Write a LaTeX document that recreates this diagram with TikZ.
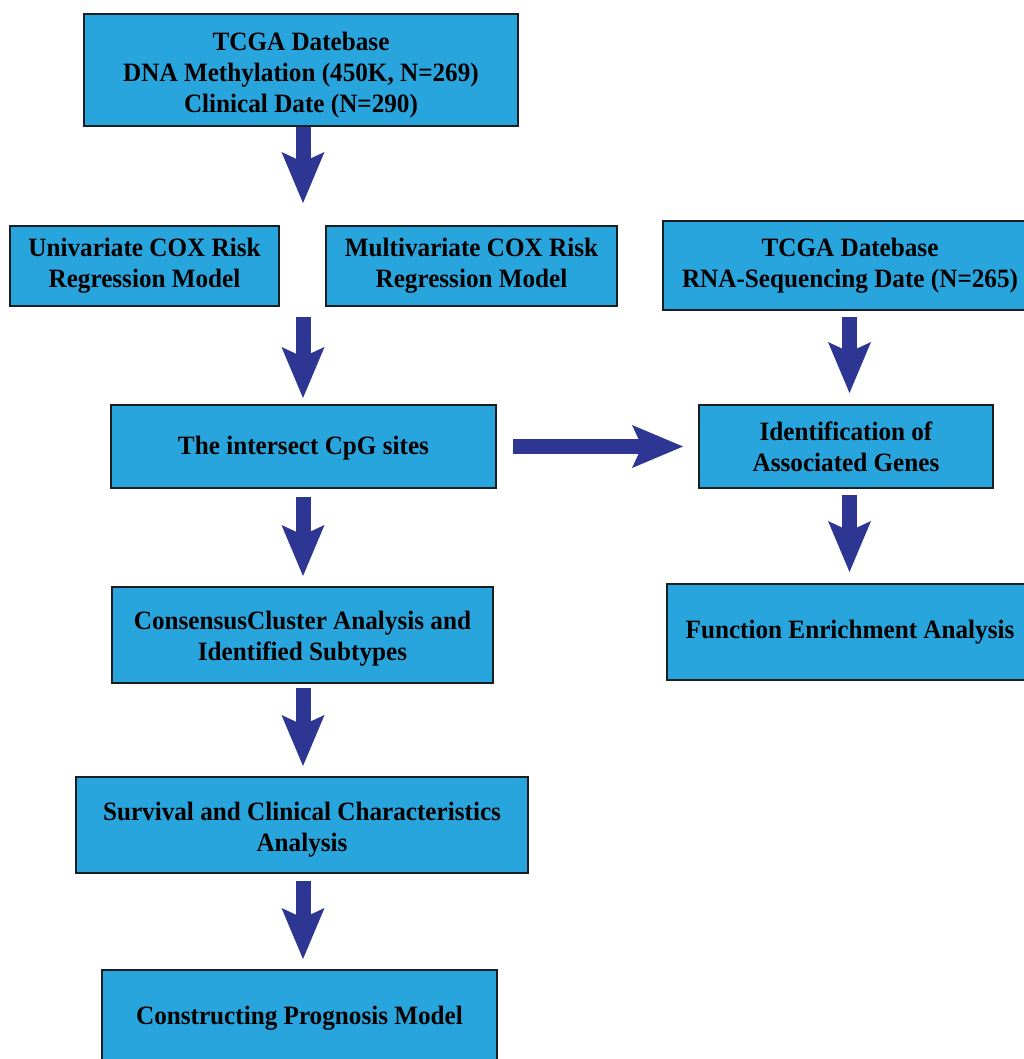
\documentclass[tikz,border=0pt]{standalone}
\usepackage{fontspec}
\setmainfont{Liberation Serif}[FakeStretch=0.95]
\usetikzlibrary{arrows.meta}
\definecolor{boxblue}{RGB}{41,165,221}
\definecolor{arrowblue}{RGB}{45,54,146}
\definecolor{edgeline}{RGB}{25,30,35}
\newcommand{\lowertext}[2]{\raisebox{-#1}[\height][\depth]{\begin{tabular}{@{}c@{}}#2\end{tabular}}}
\begin{document}
\begin{tikzpicture}[x=1pt,y=-1pt,
  box/.style={draw=edgeline, line width=1.5pt, fill=boxblue, inner sep=0pt, outer sep=0pt,
    align=center, font=\fontsize{26.5}{31}\selectfont\bfseries},
  bigarrow/.style={draw=arrowblue, line width=15pt,
    -{Stealth[length=51pt,width=43pt,inset=10pt,line width=0pt,fill=arrowblue]}}]
\useasboundingbox (0,0) rectangle (1024,1059);
\clip (0,0) rectangle (1024,1059);
\fill[white] (0,0) rectangle (1024,1059);

\coordinate (ax) at (303,0);
\coordinate (bx) at (849.5,0);

\node[box, minimum width=434pt, minimum height=112pt] (tcga) at (301,70)
  {\lowertext{5pt}{TCGA Datebase\\DNA Methylation (450K, N=269)\\Clinical Date (N=290)}};
\node[box, minimum width=269pt, minimum height=80pt] (uni) at (144.5,266)
  {Univariate COX Risk\\Regression Model};
\node[box, minimum width=291pt, minimum height=80pt] (multi) at (471.5,266)
  {Multivariate COX Risk\\Regression Model};
\node[box, minimum width=374pt, minimum height=89pt] (rna) at (850,265.5)
  {TCGA Datebase\\RNA-Sequencing Date (N=265)};
\node[box, minimum width=385pt, minimum height=83pt] (inter) at (303.5,446.5)
  {\lowertext{1.5pt}{The intersect CpG sites}};
\node[box, minimum width=294pt, minimum height=83pt] (ident) at (846,446.5)
  {Identification of\\Associated Genes};
\node[box, minimum width=366pt, minimum height=96pt] (func) at (850,632)
  {Function Enrichment Analysis};
\node[box, minimum width=381pt, minimum height=96pt] (cons) at (302.5,635)
  {\lowertext{4pt}{ConsensusCluster Analysis and\\Identified Subtypes}};
\node[box, minimum width=452pt, minimum height=96pt] (surv) at (302,825)
  {\lowertext{4.5pt}{Survival and Clinical Characteristics\\Analysis}};
\node[box, minimum width=395pt, minimum height=90pt] (model) at (299.5,1015)
  {\lowertext{3pt}{Constructing Prognosis Model}};

\draw[bigarrow, shorten <=1pt, shorten >=23pt] (tcga.south -| ax) -- (uni.north -| ax);
\draw[bigarrow, shorten <=11pt, shorten >=7pt] (uni.south -| ax) -- (inter.north -| ax);
\draw[bigarrow, shorten <=9pt, shorten >=11pt] (inter.south -| ax) -- (cons.north -| ax);
\draw[bigarrow, shorten <=5pt, shorten >=11pt] (cons.south -| ax) -- (surv.north -| ax);
\draw[bigarrow, shorten <=8pt, shorten >=11pt] (surv.south -| ax) -- (model.north -| ax);
\draw[bigarrow, shorten <=17pt, shorten >=16pt] (inter.east) -- (ident.west);
\draw[bigarrow, shorten <=7pt, shorten >=12pt] (rna.south -| bx) -- (ident.north -| bx);
\draw[bigarrow, shorten <=7pt, shorten >=12pt] (ident.south -| bx) -- (func.north -| bx);
\end{tikzpicture}
\end{document}
